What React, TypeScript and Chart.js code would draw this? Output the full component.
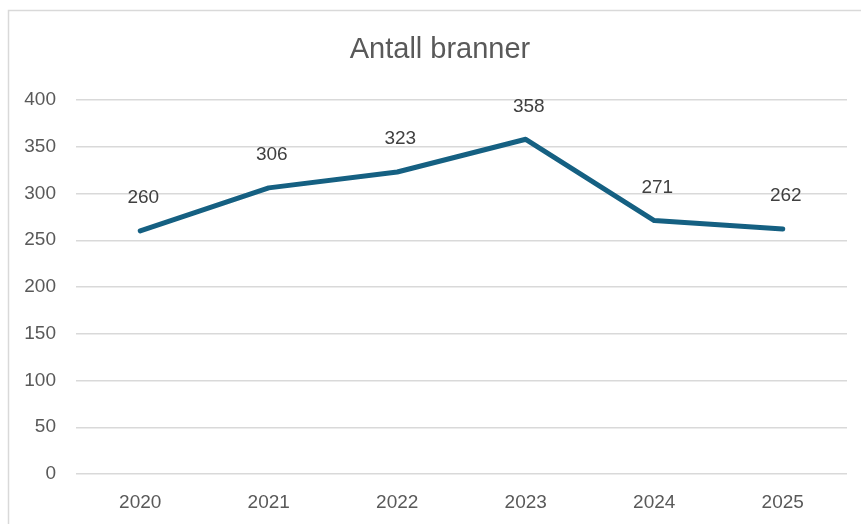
import React, { useEffect, useRef } from "react";
import { Chart, registerables } from "chart.js";

Chart.register(...registerables);

const TITLE = "Antall branner";
const YEARS = ["2020", "2021", "2022", "2023", "2024", "2025"];
const FIRES = [260, 306, 323, 358, 271, 262];
const Y_MIN = 0;
const Y_MAX = 400;
const Y_STEP = 50;

const LINE_COLOR = "#156082";
const GRID_COLOR = "#d9d9d9";
const TICK_COLOR = "#595959";
const LABEL_COLOR = "#404040";
const FONT = "'Liberation Sans', Arial, sans-serif";

const framePlugin = {
  id: "frame",
  beforeDraw(chart: any) {
    const ctx = chart.ctx;
    ctx.save();
    ctx.fillStyle = "#ffffff";
    ctx.fillRect(0, 0, chart.width, chart.height);
    ctx.strokeStyle = GRID_COLOR;
    ctx.lineWidth = 1.5;
    ctx.strokeRect(8.5, 10.5, chart.width + 20, chart.height + 20);
    ctx.restore();
  },
};

const titlePlugin = {
  id: "customTitle",
  afterDraw(chart: any) {
    const ctx = chart.ctx;
    ctx.save();
    ctx.fillStyle = TICK_COLOR;
    ctx.font = `29px ${FONT}`;
    ctx.textAlign = "center";
    ctx.textBaseline = "middle";
    ctx.fillText(TITLE, 440, 50);
    ctx.restore();
  },
};

const dataLabelPlugin = {
  id: "dataLabels",
  afterDatasetsDraw(chart: any) {
    const ctx = chart.ctx;
    const meta = chart.getDatasetMeta(0);
    ctx.save();
    ctx.fillStyle = LABEL_COLOR;
    ctx.font = `19px ${FONT}`;
    ctx.textAlign = "center";
    ctx.textBaseline = "middle";
    meta.data.forEach((pt: any, i: number) => {
      ctx.fillText(String(FIRES[i]), pt.x + 3, pt.y - 33);
    });
    ctx.restore();
  },
};

export default function App() {
  const ref = useRef<HTMLCanvasElement | null>(null);

  useEffect(() => {
    if (!ref.current) return;
    const chart = new Chart(ref.current, {
      type: "line",
      data: {
        labels: YEARS,
        datasets: [
          {
            label: TITLE,
            data: FIRES,
            borderColor: LINE_COLOR,
            backgroundColor: LINE_COLOR,
            borderWidth: 5,
            pointRadius: 0,
            pointHoverRadius: 0,
            tension: 0,
            borderCapStyle: "round",
            borderJoinStyle: "round",
          },
        ],
      },
      options: {
        responsive: false,
        animation: false,
        layout: { padding: { top: 100, right: 14, bottom: 0, left: 0 } },
        plugins: {
          legend: { display: false },
          title: { display: false },
          tooltip: { enabled: false },
        },
        scales: {
          x: {
            offset: true,
            grid: { display: false, drawTicks: false },
            border: { display: false },
            ticks: {
              color: TICK_COLOR,
              font: { family: FONT, size: 19 },
              padding: 17,
              maxRotation: 0,
            },
            afterFit(scale: any) {
              scale.height = 50;
            },
          },
          y: {
            min: Y_MIN,
            max: Y_MAX,
            grid: { color: GRID_COLOR, lineWidth: 1.5, drawTicks: false },
            border: { display: false },
            ticks: {
              stepSize: Y_STEP,
              color: TICK_COLOR,
              font: { family: FONT, size: 19 },
              padding: 20,
            },
            afterFit(scale: any) {
              scale.width = 76;
            },
          },
        },
      },
      plugins: [framePlugin, titlePlugin, dataLabelPlugin],
    });
    return () => chart.destroy();
  }, []);

  return (
    <div style={{ position: "fixed", left: 0, top: 0, width: 861, height: 524, background: "#fff" }}>
      <canvas ref={ref} width={861} height={524} style={{ display: "block" }} />
    </div>
  );
}
